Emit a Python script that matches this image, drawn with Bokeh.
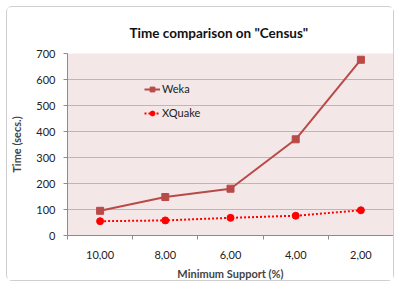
from bokeh.plotting import figure
from bokeh.models import FixedTicker, Range1d, Legend, LegendItem, ColumnDataSource
from bokeh.embed import file_html
from bokeh.resources import INLINE

categories = ["10,00", "8,00", "6,00", "4,00", "2,00"]
weka = [95, 148, 180, 370, 676]
xquake = [55, 58, 68, 76, 97]
y_ticks = [0, 100, 200, 300, 400, 500, 600, 700]

FONT = "Lato"
xs = [i + 0.5 for i in range(len(categories))]

p = figure(width=388, height=275, output_backend="svg", toolbar_location=None,
           x_range=Range1d(0, len(categories)), y_range=Range1d(0, 700),
           min_border_left=60, min_border_right=2, min_border_top=46, min_border_bottom=46,
           styles={"border": "1px solid #CFCFCF", "border-radius": "6px",
                   "margin-left": "6px", "margin-top": "6px"})

p.title.text = 'Time comparison on "Census"'
p.title.align = "left"
p.title.text_font = FONT
p.title.text_font_size = "13.5px"
p.title.text_font_style = "bold"
p.title.text_color = "#111111"
p.title.offset = 62
p.title.standoff = 26

p.background_fill_color = "#F3E7E7"
p.border_fill_color = "white"
p.outline_line_alpha = 0

p.xgrid.visible = False
p.ygrid.grid_line_color = "#B8B8B8"
p.ygrid.ticker = FixedTicker(ticks=y_ticks)

p.yaxis.ticker = FixedTicker(ticks=y_ticks, minor_ticks=[])
p.yaxis.axis_line_color = "#8C8C8C"
p.yaxis.major_tick_line_color = "#8C8C8C"
p.yaxis.major_tick_out = 4
p.yaxis.major_tick_in = 0
p.yaxis.major_label_text_font = FONT
p.yaxis.major_label_text_font_size = "11px"
p.yaxis.major_label_text_color = "#222222"
p.yaxis.major_label_standoff = 8
p.yaxis.axis_label = "Time (secs.)"
p.yaxis.axis_label_text_font = FONT
p.yaxis.axis_label_text_font_size = "11px"
p.yaxis.axis_label_text_font_style = "bold"
p.yaxis.axis_label_standoff = 10

p.xaxis.ticker = FixedTicker(ticks=xs, minor_ticks=[float(i) for i in range(len(categories) + 1)])
p.xaxis.major_label_overrides = {x: c for x, c in zip(xs, categories)}
p.xaxis.axis_line_color = "#8C8C8C"
p.xaxis.major_tick_out = 0
p.xaxis.major_tick_in = 0
p.xaxis.minor_tick_line_color = "#8C8C8C"
p.xaxis.minor_tick_out = 4
p.xaxis.minor_tick_in = 0
p.xaxis.major_label_text_font = FONT
p.xaxis.major_label_text_font_size = "11px"
p.xaxis.major_label_text_color = "#222222"
p.xaxis.major_label_standoff = 11
p.xaxis.axis_label = "Minimum Support (%)"
p.xaxis.axis_label_text_font = FONT
p.xaxis.axis_label_text_font_size = "11px"
p.xaxis.axis_label_text_font_style = "bold"
p.xaxis.axis_label_standoff = 5

src = ColumnDataSource(dict(x=xs, weka=weka, xquake=xquake))
wl = p.line("x", "weka", source=src, line_color="#B94A48", line_width=2)
wm = p.scatter("x", "weka", source=src, marker="square", size=7, fill_color="#B94A48", line_color="#B94A48")
xl = p.line("x", "xquake", source=src, line_color="#FF0000", line_width=2, line_dash="2 2")
xm = p.scatter("x", "xquake", source=src, marker="circle", size=7, fill_color="#FF0000", line_color="#FF0000")

legend = Legend(items=[LegendItem(label="Weka", renderers=[wl, wm]),
                       LegendItem(label="XQuake", renderers=[xl, xm])],
                location=(77, 116))
legend.background_fill_alpha = 0
legend.border_line_alpha = 0
legend.label_text_font = FONT
legend.label_text_font_size = "11px"
legend.label_text_color = "#222222"
legend.glyph_width = 16
legend.glyph_height = 12
legend.label_height = 12
legend.spacing = 11
legend.padding = 0
legend.margin = 0
legend.label_standoff = 2
p.add_layout(legend, "center")

open("out.html", "w").write(file_html(p, INLINE))
